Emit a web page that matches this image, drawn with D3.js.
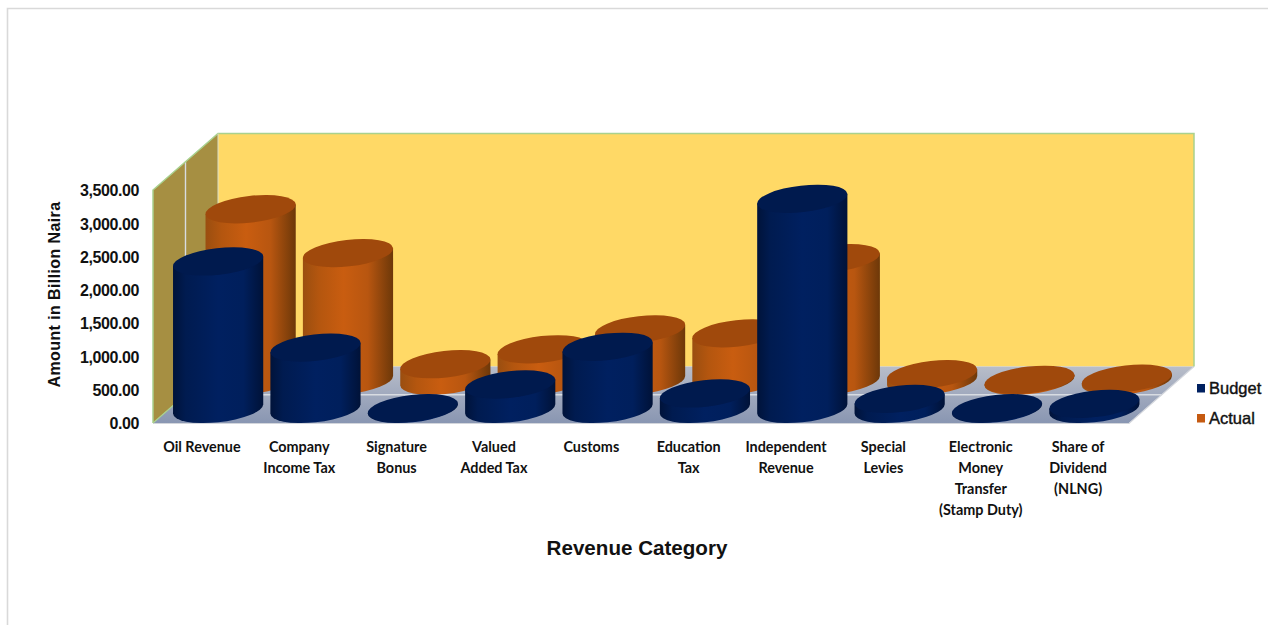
<!DOCTYPE html>
<html>
<head>
<meta charset="utf-8">
<title>Revenue by category</title>
<script src="https://cdn.jsdelivr.net/npm/d3@7/dist/d3.min.js"></script>
<style>
  html, body { margin: 0; padding: 0; background: #fff; overflow: hidden; }
  svg { display: block; }
</style>
</head>
<body>
<svg id="chart" width="1268" height="625"></svg>
<script>
// Revenue figures in billion naira
const categories = [
  ["Oil Revenue"],
  ["Company", "Income Tax"],
  ["Signature", "Bonus"],
  ["Valued", "Added Tax"],
  ["Customs"],
  ["Education", "Tax"],
  ["Independent", "Revenue"],
  ["Special", "Levies"],
  ["Electronic", "Money", "Transfer", "(Stamp Duty)"],
  ["Share of", "Dividend", "(NLNG)"]
];
const seriesNames = ["Budget", "Actual"];
const budget = [2215, 920, 10, 366, 932, 232, 3155, 150, 10, 75];
const actual = [2575, 1915, 247, 470, 770, 710, 1840, 97, 12, 30];
const yTicks = [0, 500, 1000, 1500, 2000, 2500, 3000, 3500];

// Oblique projection of the 3D box
const front = { left: 153, right: 1129, bottom: 423, top: 190 };
const depth = { dx: 65, dy: 56.5 };

const svg = d3.select("#chart");
const defs = svg.append("defs");

const x = d3.scaleBand().domain(d3.range(categories.length)).range([153.2, 1126.8]);
const y = d3.scaleLinear().domain([0, 3500]).range([front.bottom, front.top]);
// Position of each series along the depth axis, 0 at the front and 1 at the back
const z = d3.scaleBand().domain(seriesNames).range([0, 1]);

const px = (i, s) => x(i) + x.bandwidth() / 2 + (z(s) + z.bandwidth() / 2) * depth.dx;
const pz = s => (z(s) + z.bandwidth() / 2) * depth.dy;

// Page frame
svg.append("path").attr("d", "M7.5,625V8.5H1268").attr("fill", "none")
  .attr("stroke", "#d9d9d9").attr("stroke-width", 1.6);

// Box: gradients
const floorGrad = defs.append("linearGradient").attr("id", "floorFill")
  .attr("x1", 0).attr("y1", 0).attr("x2", 0).attr("y2", 1);
floorGrad.append("stop").attr("offset", 0).attr("stop-color", "#b8bdc9");
floorGrad.append("stop").attr("offset", 1).attr("stop-color", "#8996b2");

const F = front, D = depth, backX = v => v + D.dx, backY = v => v - D.dy;
const pathOf = pts => d3.line()(pts) + "Z";

// Back wall
svg.append("path")
  .attr("d", pathOf([[backX(F.left), backY(F.top)], [backX(F.right), backY(F.top)],
                     [backX(F.right), backY(F.bottom)], [backX(F.left), backY(F.bottom)]]))
  .attr("fill", "#ffd966");
// Side wall
svg.append("path")
  .attr("d", pathOf([[F.left, F.top], [backX(F.left), backY(F.top)],
                     [backX(F.left), backY(F.bottom)], [F.left, F.bottom]]))
  .attr("fill", "#a68f42");
// Floor
svg.append("path")
  .attr("d", pathOf([[F.left, F.bottom], [F.right, F.bottom],
                     [backX(F.right), backY(F.bottom)], [backX(F.left), backY(F.bottom)]]))
  .attr("fill", "url(#floorFill)");

// Mid-depth grid lines on the side wall and the floor
const mid = { x: D.dx / 2, y: D.dy / 2 };
svg.append("path")
  .attr("d", d3.line()([[F.left + mid.x, F.top - mid.y], [F.left + mid.x, F.bottom - mid.y],
                        [F.right + mid.x, F.bottom - mid.y]]))
  .attr("fill", "none").attr("stroke", "#d8dce2").attr("stroke-width", 1.4);
// Front floor edge
svg.append("path")
  .attr("d", d3.line()([[F.left, F.bottom + 0.5], [F.right, F.bottom + 0.5], [backX(F.right), backY(F.bottom)]]))
  .attr("fill", "none").attr("stroke", "#d3d6dc").attr("stroke-width", 1.2);
// Green outline of the walls
svg.append("path")
  .attr("d", d3.line()([[F.left, F.bottom], [F.left, F.top], [backX(F.left), backY(F.top)],
                        [backX(F.right), backY(F.top)], [backX(F.right), backY(F.bottom)]]))
  .attr("fill", "none").attr("stroke", "#a9d18e").attr("stroke-width", 1.5);
svg.append("path")
  .attr("d", d3.line()([[F.left, F.bottom], [backX(F.left), backY(F.bottom)]]))
  .attr("fill", "none").attr("stroke", "#a9d18e").attr("stroke-width", 1.2);
svg.append("path")
  .attr("d", d3.line()([[backX(F.left), backY(F.top)], [backX(F.left), backY(F.bottom)]]))
  .attr("fill", "none").attr("stroke", "#d9dcc8").attr("stroke-width", 1);

// Cylinder shading
const palette = {
  Budget: { top: "#001a4e", legend: "#002060",
            stops: [[0, "#00133a"], [0.14, "#001b50"], [0.5, "#002060"], [0.78, "#001f5c"], [1, "#001238"]] },
  Actual: { top: "#a0490c", legend: "#c55a11",
            stops: [[0, "#9a4e10"], [0.18, "#b4560f"], [0.45, "#c95d10"], [0.72, "#b85610"], [1, "#6d3809"]] }
};
seriesNames.forEach(s => {
  const g = defs.append("linearGradient").attr("id", "side" + s)
    .attr("x1", 0).attr("y1", 0).attr("x2", 1).attr("y2", 0);
  palette[s].stops.forEach(([o, c]) => g.append("stop").attr("offset", o).attr("stop-color", c));
});

// Cylinder cross-section: a slightly tilted ellipse
const tilt = -6.5;
const rx = x.bandwidth() * 0.466, ry = 13.3;
const t = tilt * Math.PI / 180;
const xExt = Math.hypot(rx * Math.cos(t), ry * Math.sin(t));
const yAtExt = (rx * rx - ry * ry) * Math.sin(t) * Math.cos(t) / xExt;

function bodyPath(cx, baseY, topY) {
  return `M${cx - xExt},${baseY - yAtExt}L${cx - xExt},${topY - yAtExt}` +
         `L${cx + xExt},${topY + yAtExt}L${cx + xExt},${baseY + yAtExt}` +
         `A${rx},${ry} ${tilt} 0 1 ${cx - xExt},${baseY - yAtExt}Z`;
}

// Back row first so the front row overlaps it
const rows = [["Actual", actual], ["Budget", budget]];
rows.forEach(([name, values]) => {
  const g = svg.append("g").attr("class", "series-" + name);
  const cyl = g.selectAll("g").data(values).join("g");
  const cx = (_, i) => px(i, name);
  const baseY = y(0) - pz(name);
  const topY = d => y(d) - pz(name);
  cyl.append("path")
    .attr("d", (d, i) => bodyPath(cx(d, i), baseY, topY(d)))
    .attr("fill", `url(#side${name})`);
  cyl.append("ellipse")
    .attr("cx", 0).attr("cy", 0).attr("rx", rx).attr("ry", ry)
    .attr("transform", (d, i) => `translate(${cx(d, i)},${topY(d)}) rotate(${tilt})`)
    .attr("fill", palette[name].top);
});

// Value axis
const axisG = svg.append("g").attr("transform", "translate(143,0)")
  .call(d3.axisLeft(y).tickValues(yTicks).tickFormat(d3.format(",.2f")).tickSize(0).tickPadding(4));
axisG.select(".domain").remove();
axisG.selectAll("text")
  .attr("font-family", "'Liberation Sans', Arial, sans-serif")
  .attr("font-size", 16).attr("font-weight", 700).attr("letter-spacing", -0.4)
  .attr("dy", "0.36em").attr("fill", "#111");

// Category labels
const catG = svg.append("g").selectAll("text").data(categories).join("text")
  .attr("text-anchor", "middle")
  .attr("font-family", "Lato, sans-serif")
  .attr("font-size", 14.4).attr("font-weight", 700).attr("fill", "#111");
catG.selectAll("tspan").data((d, i) => d.map(line => ({ line, i }))).join("tspan")
  .attr("x", d => x(d.i) + x.bandwidth() / 2)
  .attr("y", (d, j) => 452 + j * 21)
  .text(d => d.line);

// Axis titles
svg.append("text")
  .attr("transform", "translate(59.5,294.5) rotate(-90)")
  .attr("text-anchor", "middle")
  .attr("font-family", "'Liberation Sans', Arial, sans-serif")
  .attr("font-size", 16).attr("font-weight", 700).attr("letter-spacing", 0.4).attr("fill", "#111")
  .text("Amount in Billion Naira");
svg.append("text")
  .attr("x", 637).attr("y", 555)
  .attr("text-anchor", "middle")
  .attr("font-family", "'Liberation Sans', Arial, sans-serif")
  .attr("font-size", 20.6).attr("font-weight", 700).attr("fill", "#111")
  .text("Revenue Category");

// Legend
const legendY = d3.scalePoint().domain(seriesNames).range([388.5, 418.5]);
const legend = svg.append("g").selectAll("g").data(seriesNames).join("g")
  .attr("transform", d => `translate(1197,${legendY(d)})`);
legend.append("rect").attr("x", 0).attr("y", -4.5).attr("width", 8).attr("height", 8.5)
  .attr("fill", d => palette[d].legend);
legend.append("text").attr("x", 12).attr("y", 5.5)
  .attr("font-family", "'Liberation Sans', Arial, sans-serif")
  .attr("font-size", 16.5).attr("fill", "#111").attr("stroke", "#111").attr("stroke-width", 0.4)
  .text(d => d);
</script>
</body>
</html>
